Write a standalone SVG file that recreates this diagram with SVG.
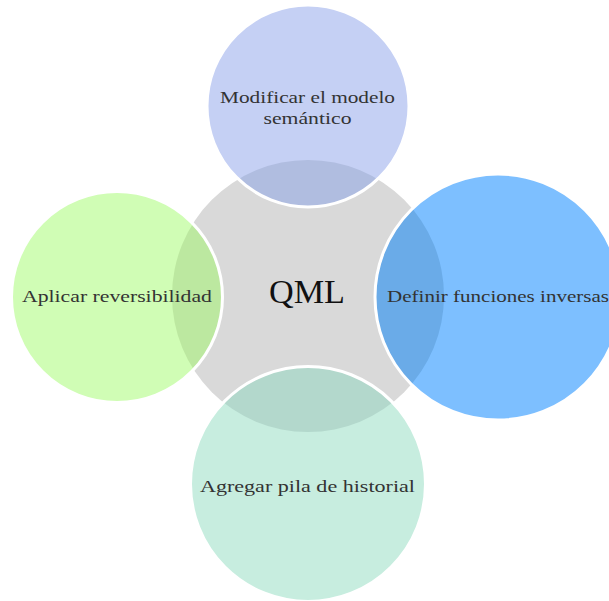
<svg xmlns="http://www.w3.org/2000/svg" width="609" height="601" viewBox="0 0 609 601">
  <defs>
    <!-- the central disc, used to tint each petal where it overlaps the hub -->
    <clipPath id="hubClip">
      <circle cx="308" cy="296" r="136"/>
    </clipPath>
  </defs>
  <style>
    .edge { fill: none; stroke: #ffffff; stroke-width: 3; }
    .lbl { font-family: "Liberation Serif", "DejaVu Serif", serif; font-size: 17.5px; fill: #333333; }
    .hub-lbl { font-family: "Liberation Serif", "DejaVu Serif", serif; font-size: 33px; fill: #111111; }
  </style>
  <rect width="609" height="601" fill="#ffffff"/>

  <!-- hub -->
  <g id="qml">
    <circle cx="308" cy="296" r="136" fill="#d9d9d9"/>
    <text class="hub-lbl" x="307" y="303" text-anchor="middle" textLength="76" lengthAdjust="spacingAndGlyphs">QML</text>
  </g>

  <g id="connectors"/>

  <!-- petals -->
  <g id="modificar">
    <circle cx="308" cy="106" r="101" fill="#c5d0f4"/>
    <circle cx="308" cy="106" r="101" fill="#b0bde0" clip-path="url(#hubClip)"/>
    <circle class="edge" cx="308" cy="106" r="101"/>
    <text class="lbl" x="307.5" y="102.5" text-anchor="middle" textLength="175" lengthAdjust="spacingAndGlyphs">Modificar el modelo</text>
    <text class="lbl" x="307.5" y="124" text-anchor="middle" textLength="88" lengthAdjust="spacingAndGlyphs">semántico</text>
  </g>

  <g id="aplicar">
    <circle cx="117" cy="297" r="105.5" fill="#d0fdb5"/>
    <circle cx="117" cy="297" r="105.5" fill="#bce8a0" clip-path="url(#hubClip)"/>
    <circle class="edge" cx="117" cy="297" r="105.5"/>
    <text class="lbl" x="22" y="301.7" textLength="190" lengthAdjust="spacingAndGlyphs">Aplicar reversibilidad</text>
  </g>

  <g id="definir">
    <circle cx="498" cy="297" r="123" fill="#7dbfff"/>
    <circle cx="498" cy="297" r="123" fill="#6aabe8" clip-path="url(#hubClip)"/>
    <circle class="edge" cx="498" cy="297" r="123"/>
    <text class="lbl" x="387" y="301.7" textLength="222" lengthAdjust="spacingAndGlyphs">Definir funciones inversas</text>
  </g>

  <g id="agregar">
    <circle cx="308" cy="484" r="117.5" fill="#c7eddf"/>
    <circle cx="308" cy="484" r="117.5" fill="#b3d8cc" clip-path="url(#hubClip)"/>
    <circle class="edge" cx="308" cy="484" r="117.5"/>
    <text class="lbl" x="200" y="491.7" textLength="215" lengthAdjust="spacingAndGlyphs">Agregar pila de historial</text>
  </g>
</svg>
